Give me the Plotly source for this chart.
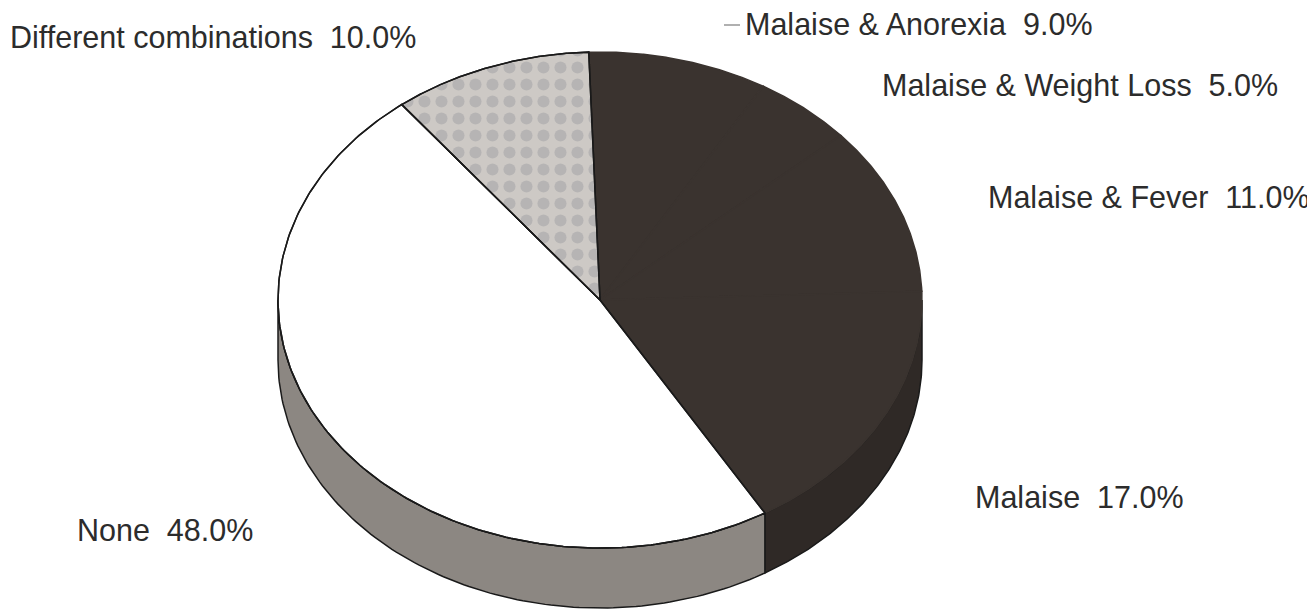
import numpy as np
import plotly.graph_objects as go

# ---- data (clockwise from the top) ----
labels = ["Malaise & Anorexia", "Malaise & Weight Loss", "Malaise & Fever",
          "Malaise", "None", "Different combinations"]
values = [9.0, 5.0, 11.0, 17.0, 48.0, 10.0]

# ---- styling ----
top_colors = ["#3a332f", "#3a332f", "#3a332f", "#3a332f", "#ffffff", "#ccc8c4"]
edge_colors = ["#3a332f", "#3a332f", "#3a332f", "#3a332f", "#1a1a1a", "#1a1a1a"]
side_colors = ["#2f2926", "#2f2926", "#2f2926", "#2f2926", "#8c8782", "#a29e9a"]
label_pos = [(743, 24), (880, 85), (986, 197), (973, 497), (75, 530), (8, 37)]

W, H = 1315, 611
OFF = 8  # page body margin
CX, CY, RX, RY, DEPTH = 600, 300, 322, 248, 60
START = -2.0  # degrees, clockwise from top


def pt(t_deg, dy=0.0):
    t = np.radians(t_deg)
    return CX + RX * np.sin(t), CY - RY * np.cos(t) + dy


fig = go.Figure()

total = sum(values)
bounds = []
a = START
for v in values:
    b = a + 360.0 * v / total
    bounds.append((a, b))
    a = b

# sides (front half only: 90..270 deg)
for (a, b), col in zip(bounds, side_colors):
    for off in (0, 360, -360):
        lo = max(a, 90 + off)
        hi = min(b, 270 + off)
        if hi <= lo:
            continue
        ts = np.linspace(lo, hi, 120)
        xt, yt = pt(ts)
        xb, yb = pt(ts[::-1], DEPTH)
        xs = np.concatenate([xt, xb, xt[:1]])
        ys = np.concatenate([yt, yb, yt[:1]])
        fig.add_trace(go.Scatter(x=xs, y=ys, mode="lines", fill="toself",
                                 fillcolor=col, line=dict(color="#1a1a1a", width=1.5),
                                 hoverinfo="skip", showlegend=False))

# top face slices
for i, ((a, b), col) in enumerate(zip(bounds, top_colors)):
    ts = np.linspace(a, b, 200)
    xe, ye = pt(ts)
    xs = np.concatenate([[CX], xe, [CX]])
    ys = np.concatenate([[CY], ye, [CY]])
    kw = {}
    if labels[i] == "Different combinations":
        kw["fillpattern"] = dict(shape=".", size=17, solidity=0.4,
                                 fgcolor="#a09fa3", bgcolor="#cdc9c5")
    fig.add_trace(go.Scatter(x=xs, y=ys, mode="lines", fill="toself",
                             fillcolor=col, line=dict(color=edge_colors[i], width=1.5),
                             hoverinfo="skip", showlegend=False, **kw))

# outline of the white / patterned boundaries on top
for i in (4, 5):
    a, b = bounds[i]
    ts = np.linspace(a, b, 200)
    xe, ye = pt(ts)
    fig.add_trace(go.Scatter(x=np.concatenate([[CX], xe, [CX]]),
                             y=np.concatenate([[CY], ye, [CY]]), mode="lines",
                             line=dict(color="#1a1a1a", width=1.5),
                             hoverinfo="skip", showlegend=False))

# labels
for lab, v, (lx, ly) in zip(labels, values, label_pos):
    fig.add_annotation(x=lx, y=ly, xref="x", yref="y", text=f"{lab}  {v:.1f}%",
                       showarrow=False, xanchor="left", yanchor="middle",
                       font=dict(family="Arial, Liberation Sans, sans-serif",
                                 size=30.5, color="#2c2c2c"))

# small leader dash near the top label
fig.add_shape(type="line", x0=724, x1=740, y0=25, y1=25, xref="x", yref="y",
              line=dict(color="#b0b0b0", width=2))

fig.update_xaxes(range=[OFF, W + OFF], visible=False, fixedrange=True)
fig.update_yaxes(range=[H + OFF, OFF], visible=False, fixedrange=True)
fig.update_layout(width=W, height=H, margin=dict(l=0, r=0, t=0, b=0),
                  plot_bgcolor="white", paper_bgcolor="white")

fig.write_html("out.html")
